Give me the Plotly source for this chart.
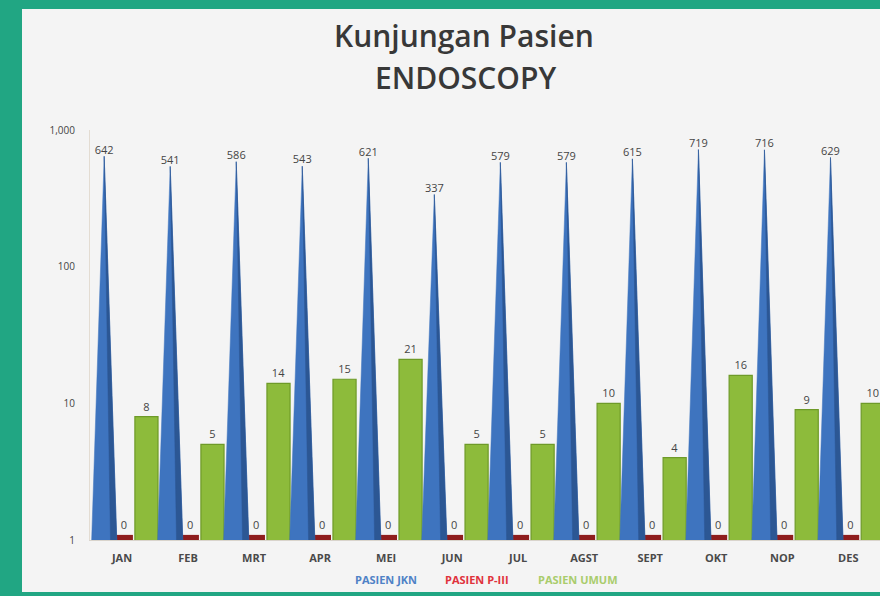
import plotly.graph_objects as go

months = ["JAN", "FEB", "MRT", "APR", "MEI", "JUN", "JUL", "AGST", "SEPT", "OKT", "NOP", "DES"]
jkn = [642, 541, 586, 543, 621, 337, 579, 579, 615, 719, 716, 629]
p3 = [0, 0, 0, 0, 0, 0, 0, 0, 0, 0, 0, 0]
umum = [8, 5, 14, 15, 21, 5, 5, 10, 4, 16, 9, 10]
ytick_vals = [1, 10, 100, 1000]
ytick_text = ["1", "10", "100", "1,000"]

# style constants
BLUE_OFF, BLUE_HW = -0.27, 0.19
RED_OFF, RED_W, RED_THICK = 0.03, 0.27, 0.09
GREEN_OFF, GREEN_W = 0.37, 0.35
BASE = 1

idx = list(range(len(months)))

fig = go.Figure()

# blue cones (main body + darker right side)
cx, cy, dx, dy = [], [], [], []
for i, v in zip(idx, jkn):
    c = i + BLUE_OFF
    cx += [c - BLUE_HW, c, c + BLUE_HW, None]
    cy += [BASE, v, BASE, None]
    dx += [c + 0.5 * BLUE_HW, c, c + BLUE_HW, None]
    dy += [BASE, v, BASE, None]

fig.add_trace(go.Scatter(x=cx, y=cy, mode="lines", fill="toself",
                         fillcolor="#3e74bf", line=dict(width=0.5, color="#3e74bf"),
                         hoverinfo="skip", showlegend=False))
fig.add_trace(go.Scatter(x=dx, y=dy, mode="lines", fill="toself",
                         fillcolor="#2c5794", line=dict(width=0.5, color="#2c5794"),
                         hoverinfo="skip", showlegend=False))
# blue labels
fig.add_trace(go.Scatter(x=[i + BLUE_OFF for i in idx], y=jkn, mode="text",
                         text=[str(v) for v in jkn], textposition="top center",
                         textfont=dict(family="Open Sans", size=11, color="#444444"),
                         showlegend=False, hoverinfo="skip"))

# red bars (value 0 shown as a thin sliver at the baseline)
fig.add_trace(go.Bar(x=[i + RED_OFF for i in idx], y=[RED_THICK] * len(p3), base=BASE,
                     width=RED_W, marker=dict(color="#8e1d1d", line=dict(width=0)),
                     text=[str(v) for v in p3], textposition="outside",
                     textfont=dict(family="Open Sans", size=11, color="#444444"),
                     cliponaxis=False, showlegend=False))

# green bars
fig.add_trace(go.Bar(x=[i + GREEN_OFF for i in idx], y=umum, width=GREEN_W,
                     marker=dict(color="#8dbb3b", line=dict(width=1.2, color="#6e9a28")),
                     text=[str(v) for v in umum], textposition="outside",
                     textfont=dict(family="Open Sans", size=11, color="#444444"),
                     cliponaxis=False, showlegend=False))

L, T, B = 90, 130, 56
W, H = 880, 596
pw, ph = W - L, H - T - B


def px_x(p):
    return (p - L) / pw


def px_y(p):
    return (H - B - p) / ph


def label(text, x, y, size, color, weight):
    return dict(text=text, xref="paper", yref="paper", x=px_x(x), y=px_y(y),
                xanchor="center", yanchor="middle", showarrow=False,
                font=dict(family="Open Sans", size=size, color=color, weight=weight))


fig.update_layout(
    width=W, height=H,
    margin=dict(l=L, r=0, t=T, b=B),
    paper_bgcolor="#21a683",
    plot_bgcolor="rgba(0,0,0,0)",
    barmode="overlay",
    showlegend=False,
    xaxis=dict(range=[-0.485, 11.48], tickvals=idx, ticktext=months,
               showgrid=False, zeroline=False, showline=True,
               linecolor="#d9d4cc", linewidth=1, ticks="", ticklabelstandoff=8,
               tickfont=dict(family="Open Sans", size=11, color="#4a4a4a", weight="bold")),
    yaxis=dict(type="log", range=[0, 3], tickvals=ytick_vals, ticktext=ytick_text,
               showgrid=False, zeroline=False, showline=True,
               linecolor="#e3dcd2", linewidth=1, ticks="", ticklabelstandoff=12,
               tickfont=dict(family="Open Sans", size=10, color="#444444")),
    shapes=[dict(type="rect", xref="paper", yref="paper",
                 x0=px_x(22), x1=px_x(890), y0=px_y(592), y1=px_y(9),
                 fillcolor="#f4f4f4", line=dict(width=0), layer="below")],
    annotations=[
        label("Kunjungan Pasien", 464, 35, 30, "#383838", 600),
        label("ENDOSCOPY", 465, 77, 30, "#383838", 600),
        label("PASIEN JKN", 386, 579, 11, "#4f82c6", "bold"),
        label("PASIEN P-III", 477, 579, 11, "#e0323c", "bold"),
        label("PASIEN UMUM", 578, 579, 11, "#a9cc6c", "bold"),
    ],
)

fig.write_html(
    "out.html",
    config={"displayModeBar": False},
    post_script="document.body.style.margin='0';document.body.style.overflow='hidden';"
                "document.body.style.background='#21a683';",
)
